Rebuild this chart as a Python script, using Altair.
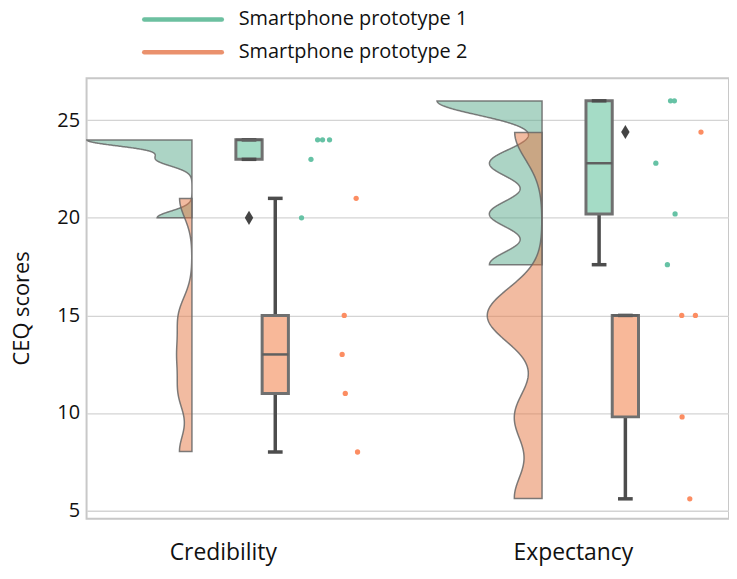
import altair as alt
import pandas as pd

measures = ["Credibility", "Expectancy"]
protos = ["Smartphone prototype 1", "Smartphone prototype 2"]

# CEQ scores (5 participants per group)
cred_p1 = [24, 24, 24, 23, 20]
cred_p2 = [21, 15, 13, 11, 8]
exp_p1 = [26, 26, 22.8, 20.2, 17.6]
exp_p2 = [24.4, 15, 15, 9.8, 5.6]

# horizontal jitter of the "rain" points, in category units
jit_cred_p1 = [0.271, 0.285, 0.305, 0.252, 0.225]
jit_cred_p2 = [0.381, 0.347, 0.341, 0.350, 0.385]
jit_exp_p1 = [0.279, 0.290, 0.237, 0.292, 0.270]
jit_exp_p2 = [0.366, 0.311, 0.350, 0.312, 0.334]

rows = []
for m, p, vals, jit in [
    (measures[0], protos[0], cred_p1, jit_cred_p1),
    (measures[0], protos[1], cred_p2, jit_cred_p2),
    (measures[1], protos[0], exp_p1, jit_exp_p1),
    (measures[1], protos[1], exp_p2, jit_exp_p2),
]:
    for v, j in zip(vals, jit):
        rows.append({"measure": m, "proto": p, "value": v, "jit": j})
df = pd.DataFrame(rows)

FONT = "Open Sans"
GREEN, ORANGE = "#66c2a5", "#fc8d62"
LEG_COLORS = ["#6cc0a0", "#ea916d"]
IDX = "(datum.measure === 'Credibility' ? 0 : 1)"
HUE = "(datum.proto === 'Smartphone prototype 1' ? 0.075 : 0.15)"

xscale = alt.Scale(domain=[-0.389, 1.446], nice=False, zero=False)
yscale = alt.Scale(domain=[4.58, 27.16], nice=False, zero=False)
xaxis = alt.Axis(values=[0, 1], labelExpr="datum.value == 0 ? 'Credibility' : 'Expectancy'",
                 title=None, grid=False, ticks=False, domain=False, labelFontSize=23,
                 labelFont=FONT, labelColor="#111", labelPadding=23, labelFlush=False)
yaxis = alt.Axis(values=[5, 10, 15, 20, 25], title="CEQ scores", grid=True, ticks=False,
                 domain=False, labelFontSize=20, labelFont=FONT, labelColor="#111",
                 labelPadding=7, titleFontSize=22, titleFont=FONT, titleColor="#111",
                 titleFontWeight="normal", titlePadding=24, titleY=231)


def X(f):
    return alt.X(f, type="quantitative", scale=xscale, axis=xaxis)


def Y(f):
    return alt.Y(f, type="quantitative", scale=yscale, axis=yaxis)


base = alt.Chart(df)

# half violins (KDE with bandwidth = 0.2 * sd, cut at the data range, scaled per category)
violin = (
    base.transform_joinaggregate(sd="stdev(value)", mn="min(value)", mx="max(value)",
                                 groupby=["measure", "proto"])
    .transform_calculate(bw="0.2 * datum.sd", z="datum.value / (0.2 * datum.sd)")
    .transform_density("z", as_=["z", "dens"], bandwidth=1, extent=[3, 72], steps=3000,
                       groupby=["measure", "proto", "bw", "mn", "mx"])
    .transform_calculate(v="datum.z * datum.bw", d="datum.dens / datum.bw")
    .transform_filter("datum.v >= datum.mn - 1e-9 && datum.v <= datum.mx + 1e-9")
    .transform_joinaggregate(dmax="max(d)", groupby=["measure"])
    .transform_calculate(xbase=IDX + " - 0.088",
                         xcurve=IDX + " - 0.088 - datum.d / datum.dmax * 0.30")
    .mark_area(orient="horizontal", fillOpacity=0.5, stroke="#666666", strokeWidth=1.5,
               strokeOpacity=0.85)
    .encode(
        y=Y("v"),
        x=X("xcurve"),
        x2="xbase:Q",
        fill=alt.Fill("proto:N", scale=alt.Scale(domain=protos, range=["#5aaa8c", "#e57743"]),
                      legend=None),
        detail="measure:N",
    )
)

# box statistics
stats = (
    base.transform_joinaggregate(q1="q1(value)", q3="q3(value)", med="median(value)",
                                 groupby=["measure", "proto"])
    .transform_calculate(lo="datum.q1 - 1.5 * (datum.q3 - datum.q1)",
                         hi="datum.q3 + 1.5 * (datum.q3 - datum.q1)")
)

whisk_data = (
    stats.transform_filter("datum.value >= datum.lo && datum.value <= datum.hi")
    .transform_aggregate(wmin="min(value)", wmax="max(value)", q1="max(q1)", q3="max(q3)",
                         groupby=["measure", "proto"])
    .transform_calculate(xc=IDX + " + " + HUE,
                         cl=IDX + " + " + HUE + " - 0.021",
                         cr=IDX + " + " + HUE + " + 0.021")
)
WH = dict(color="#4d4d4d", strokeWidth=3.5)
w_low = whisk_data.mark_rule(**WH).encode(x=X("xc"), y=Y("wmin"), y2="q1:Q")
w_high = whisk_data.mark_rule(**WH).encode(x=X("xc"), y=Y("q3"), y2="wmax:Q")
cap_low = whisk_data.mark_rule(**WH).encode(x=X("cl"), x2="cr:Q", y=Y("wmin"))
cap_high = whisk_data.mark_rule(**WH).encode(x=X("cl"), x2="cr:Q", y=Y("wmax"))

box_data = (
    base.transform_aggregate(q1="q1(value)", q3="q3(value)", med="median(value)",
                             groupby=["measure", "proto"])
    .transform_calculate(xl=IDX + " + " + HUE + " - 0.0375",
                         xr=IDX + " + " + HUE + " + 0.0375")
)
box = box_data.mark_rect(stroke="#707070", strokeWidth=3).encode(
    x=X("xl"), x2="xr:Q", y=Y("q1"), y2="q3:Q",
    fill=alt.Fill("proto:N", scale=alt.Scale(domain=protos, range=["#a5dcc6", "#f8b899"]),
                  legend=None),
)
median = box_data.mark_rule(color="#606060", strokeWidth=2.5).encode(
    x=X("xl"), x2="xr:Q", y=Y("med"))

outliers = (
    stats.transform_filter("datum.value < datum.lo || datum.value > datum.hi")
    .transform_calculate(xc=IDX + " + " + HUE)
    .mark_point(shape="M0,-1L0.6,0L0,1L-0.6,0Z", filled=True, size=200, color="#444444",
                opacity=1)
    .encode(x=X("xc"), y=Y("value"))
)

rain = (
    base.transform_calculate(xj=IDX + " + datum.jit")
    .mark_circle(size=28, opacity=1)
    .encode(
        x=X("xj"),
        y=Y("value"),
        color=alt.Color("proto:N", scale=alt.Scale(domain=protos, range=[GREEN, ORANGE]),
                        legend=None),
    )
)

# legend (above the plot): one line swatch and one label per prototype
legend_layers = []
for i, (name, col) in enumerate(zip(protos, LEG_COLORS)):
    ly = -59 + 33 * i
    ldf = pd.DataFrame({"label": [name]})
    legend_layers.append(
        alt.Chart(ldf).mark_rule(color=col, strokeWidth=4.5, strokeCap="round").encode(
            x=alt.value(58), x2=alt.value(136), y=alt.value(ly))
    )
    legend_layers.append(
        alt.Chart(ldf).mark_text(align="left", baseline="middle", font=FONT, fontSize=20,
                                 color="#111").encode(
            x=alt.value(153), y=alt.value(ly), text="label:N")
    )

chart = (
    alt.layer(violin, w_low, w_high, box, cap_low, cap_high, median, outliers, rain,
              *legend_layers)
    .resolve_scale(fill="independent")
    .properties(
        width=646, height=443, autosize=alt.AutoSizeParams(type="none"),
        padding={"left": 79, "top": 69, "right": 0, "bottom": 50},
    )
    .configure_view(stroke="#c8c8c8", strokeWidth=2)
    .configure_axis(gridColor="#d4d4d4", gridWidth=1.3)
)

chart.save("out.html", embed_options={"renderer": "svg", "actions": False})
